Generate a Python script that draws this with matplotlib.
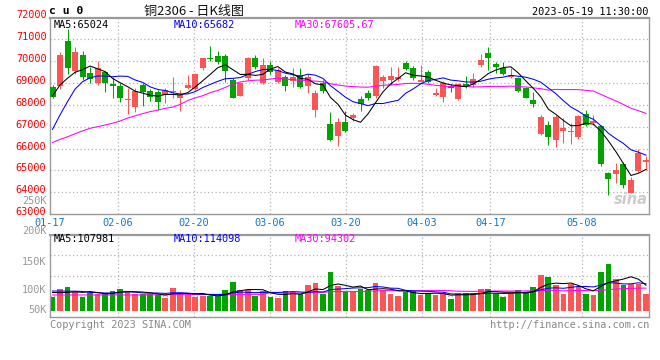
import numpy as np
import matplotlib
matplotlib.use('Agg')
import matplotlib.pyplot as plt
from matplotlib import transforms

# ---------------- data ----------------
tick_labels = ['01-17', '02-06', '02-20', '03-06', '03-20', '04-03', '04-17', '05-08']
tick_idx = [0, 9, 19, 29, 39, 49, 58, 70]

opens = [68836, 68882, 70924, 69552, 70284, 69461, 68988, 69491, 68973, 68866,
         68226, 67922, 68912, 68638, 68577, 68455, 68577, 68300, 68790, 68729,
         69705, 70162, 70238, 70238, 69141, 68409, 69247, 70131, 68988, 69826,
         69065, 69293, 69110, 69369, 68866, 67769, 69019, 67114, 66596, 67205,
         67388, 68257, 68531, 68424, 69110, 69141, 69186, 69933, 69705, 69065,
         69522, 68455, 68379, 68866, 68257, 68943, 68912, 69826, 70390, 69872,
         69705, 69293, 69247, 68760, 68226, 66657, 67083, 66398, 66824, 66779,
         66550, 67586, 67190, 67038, 64904, 64843, 65300, 63990, 64996, 65376]
closes = [68380, 70284, 69674, 70436, 69293, 69186, 69674, 69019, 68866, 68334,
          68272, 68638, 68577, 68379, 68120, 68683, 68638, 68450, 68912, 69400,
          70131, 70086, 69979, 69567, 68303, 69019, 70131, 69720, 69826, 69491,
          69598, 68866, 69293, 68806, 69293, 68562, 68638, 66398, 67236, 66809,
          67541, 68028, 68333, 69796, 69293, 69324, 69293, 69644, 69217, 69141,
          69065, 68562, 69019, 68790, 68943, 68836, 69186, 70055, 70131, 69750,
          69415, 69369, 68638, 68333, 68028, 67464, 66550, 67464, 66931, 66824,
          67495, 67083, 67266, 65300, 64614, 65026, 64340, 64569, 65818, 65483]
highs = [68912, 70436, 71480, 70665, 70467, 69750, 70009, 69552, 69293, 68988,
         68790, 68790, 68988, 68729, 68683, 68790, 69293, 68680, 69369, 69446,
         70162, 70695, 70467, 70314, 69217, 69065, 70208, 70284, 70162, 70009,
         69705, 69369, 69674, 69705, 69400, 68683, 69141, 67693, 67419, 67723,
         67617, 68409, 68683, 69826, 69369, 69750, 69720, 70009, 69796, 69826,
         69598, 68760, 69095, 68943, 68988, 69324, 69446, 70314, 70665, 69979,
         69979, 69705, 69293, 68836, 68607, 67541, 67266, 67541, 67388, 67160,
         67541, 67769, 67541, 67083, 64950, 65331, 65407, 64721, 65971, 65666]
lows = [68303, 68729, 69400, 69400, 69141, 68988, 68912, 68607, 68334, 68120,
        67571, 67662, 67967, 68181, 67769, 68074, 68333, 67700, 68729, 68683,
        69598, 70009, 69887, 69065, 68303, 68409, 69141, 69628, 68943, 69400,
        69019, 68638, 68836, 68760, 68531, 67464, 68531, 66352, 66138, 66748,
        67266, 67723, 68226, 68333, 68790, 68912, 69110, 69598, 69141, 69065,
        68988, 68409, 68120, 68607, 68226, 68790, 68836, 69750, 69598, 69446,
        69369, 69247, 68607, 68303, 67922, 66626, 66169, 66093, 66245, 66215,
        66443, 67038, 67083, 65224, 63883, 64416, 64218, 63959, 64950, 65026]

volumes_k = [87.8, 101.7, 105.0, 97.2, 88.9, 94.4, 92.8, 95.6, 98.3, 101.7,
             97.2, 92.8, 92.8, 92.8, 91.7, 87.2, 103.9, 95.6, 92.8, 88.9,
             90.0, 90.0, 90.0, 100.0, 113.9, 100.0, 100.0, 90.0, 98.3, 88.9,
             87.2, 98.3, 97.2, 92.8, 108.3, 112.2, 92.8, 130.6, 106.4, 97.2,
             97.2, 101.7, 100.0, 111.7, 100.0, 93.0, 90.0, 97.2, 98.5, 91.7,
             94.4, 91.7, 94.4, 85.0, 94.4, 94.4, 94.4, 101.7, 101.7, 94.4,
             88.9, 94.4, 100.0, 97.2, 105.0, 125.0, 121.7, 108.3, 93.3, 110.0,
             105.0, 93.3, 91.7, 130.0, 143.3, 118.3, 108.3, 110.0, 110.0, 93.3]

# moving-average values before enough in-window history exists
ma5_head = [68410, 68910, 69220, 69490]
ma10_head = [66880, 67540, 68150, 68720, 69060, 69240, 69320, 69320, 69290]
ma30_head = [66280, 66420, 66540, 66680, 66810, 66930, 67000, 67080, 67160, 67260,
             67400, 67500, 67600, 67690, 67760, 67840, 67900, 68020, 68200, 68320,
             68420, 68560, 68660, 68800, 68950, 69050, 69100, 69130, 69140]
vma5_head = [96.0, 95.5, 96.0, 97.0]
vma10_head = [98.3, 98.3, 98.0, 98.0, 97.5, 96.0, 95.6, 95.0, 95.0]
vma30_head = [91.7, 91.7, 91.7, 91.7, 91.7, 91.7, 91.7, 91.7, 91.7, 91.7,
              91.7, 91.7, 91.7, 91.9, 92.0, 92.2, 92.2, 92.2, 92.3, 92.4,
              92.5, 92.6, 92.7, 92.8, 92.8, 92.8, 92.8, 92.8, 92.8]

header_title = '铜2306 - 日K线图'
header_code = 'c u 0'
header_time = '2023-05-19 11:30:00'
ma_price_text = ['MA5:65024', 'MA10:65682', 'MA30:67605.67']
ma_vol_text = ['MA5:107981', 'MA10:114098', 'MA30:94302']
price_labels = [72000, 71000, 70000, 69000, 68000, 67000, 66000, 65000, 64000, 63000]
vol_labels = ['250K', '200K', '150K', '100K', '50K']
vol_label_pos = [248.8, 198.8, 147.2, 100.0, 66.7]

# ---------------- helpers ----------------
def sma(vals, n, head):
    a = np.asarray(vals, float)
    body = np.convolve(a, np.ones(n) / n, mode='valid')
    return np.concatenate([np.asarray(head, float), body])

W, H = 660, 360
def fx(px):
    return px / W
def fy(py):
    return 1 - py / H

RED = '#fb5656'
GREEN = '#00a300'
GRID = '#b4b4b4'
SPINE = '#9a9a9a'
MONO = 'DejaVu Sans Mono'
LW = 0.75

o = np.array(opens, float); c = np.array(closes, float)
hi = np.array(highs, float); lo = np.array(lows, float)
vol = np.array(volumes_k, float) * 1000
n = len(o)
x = np.arange(n)
up = c >= o
cols = [RED if u else GREEN for u in up]

fig = plt.figure(figsize=(6.6, 3.6), dpi=100)
fig.patch.set_facecolor('white')

xl = (-0.333, 79.4)
# date grid of the chart uses a slightly different spacing than the candles
gx = [(49.6 + 7.6 * i - 52.5) / 7.513 for i in tick_idx]

# ---------------- price panel ----------------
ax = fig.add_axes([fx(50), fy(213.5), fx(649) - fx(50), fy(18) - fy(213.5)])
ax.set_xlim(*xl)
ax.set_ylim(63030, 71975)
for yv in range(64000, 72000, 1000):
    ax.axhline(yv, color=GRID, lw=0.9, ls=(0, (1, 2)), zorder=0)
for g in gx[1:]:
    ax.axvline(g, color=GRID, lw=0.9, ls=(0, (1, 2)), zorder=0)

ax.vlines(x, lo, hi, colors=cols, lw=LW, zorder=2)
body_lo = np.minimum(o, c)
body_h = np.maximum(np.abs(c - o), 45)
ax.bar(x, body_h, bottom=body_lo, width=0.8, color=cols, linewidth=0, zorder=3)

ma5 = sma(c, 5, ma5_head)
ma10 = sma(c, 10, ma10_head)
ma30 = sma(c, 30, ma30_head)
ax.plot(x, ma30, color='#ff00ff', lw=LW, zorder=4)
ax.plot(x, ma10, color='#0000ff', lw=LW, zorder=4)
ax.plot(x, ma5, color='black', lw=LW, zorder=5)

ax.set_xticks([]); ax.set_yticks([])
for s in ax.spines.values():
    s.set_color(SPINE); s.set_linewidth(1.0)
ax.spines['top'].set_linewidth(1.6)

ytr = transforms.blended_transform_factory(fig.transFigure, ax.transData)
for pv in price_labels:
    ax.text(fx(46.5), pv + 90, str(pv), transform=ytr, ha='right', va='center',
            color='#ff0000', fontsize=7.4, family=MONO, clip_on=False)

# ---------------- volume panel ----------------
axv = fig.add_axes([fx(50), fy(317), fx(649) - fx(50), fy(234.5) - fy(317)])
axv.set_xlim(*xl)
vlo, vhi = 55000, 192500
axv.set_ylim(vlo, vhi)
for f in (0.25, 0.5, 0.75):
    axv.axhline(vlo + f * (vhi - vlo), color=GRID, lw=0.9, ls=(0, (1, 2)), zorder=0)
for g in gx[1:]:
    axv.axvline(g, color=GRID, lw=0.9, ls=(0, (1, 2)), zorder=0)
base = 65000
axv.bar(x, vol - base, bottom=base, width=0.76, color=cols, linewidth=0, zorder=2)
vma5 = sma(vol / 1000, 5, vma5_head) * 1000
vma10 = sma(vol / 1000, 10, vma10_head) * 1000
vma30 = sma(vol / 1000, 30, vma30_head) * 1000
axv.plot(x, vma30, color='#ff00ff', lw=LW, zorder=3)
axv.plot(x, vma10, color='#0000ff', lw=LW, zorder=3)
axv.plot(x, vma5, color='black', lw=LW, zorder=4)
axv.set_xticks([]); axv.set_yticks([])
for s in axv.spines.values():
    s.set_color(SPINE); s.set_linewidth(1.0)
axv.spines['top'].set_linewidth(1.6)

vtr = transforms.blended_transform_factory(fig.transFigure, axv.transData)
for lab, pos in zip(vol_labels, vol_label_pos):
    axv.text(fx(46.5), pos * 1000, lab, transform=vtr, ha='right', va='center',
             color='#999999', fontsize=7.4, family=MONO, clip_on=False)

# ---------------- date labels ----------------
xtr = transforms.blended_transform_factory(ax.transData, fig.transFigure)
for g, lab in zip(gx, tick_labels):
    ax.text(g, fy(222.5), lab, transform=xtr, ha='center', va='center',
            color='#1078c8', fontsize=7.4, family=MONO, clip_on=False)

# ---------------- header & legends ----------------
fig.text(fx(49), fy(11.5), header_code, ha='left', va='center', fontsize=8.2,
         fontweight='bold', family=MONO, color='black')
fig.text(fx(194), fy(11.5), header_title, ha='center', va='center', fontsize=9.4,
         family=['Noto Sans CJK SC', 'DejaVu Sans'], color='#111111')
fig.text(fx(648), fy(12), header_time, ha='right', va='center', fontsize=7.4,
         family=MONO, color='black')

leg_x = [54, 174, 295]
leg_c = ['black', '#0000ff', '#ff00ff']
for t, lx, lc in zip(ma_price_text, leg_x, leg_c):
    fig.text(fx(lx), fy(24.5), t, ha='left', va='center', fontsize=7.4, family=MONO, color=lc)
for t, lx, lc in zip(ma_vol_text, leg_x, leg_c):
    fig.text(fx(lx), fy(239), t, ha='left', va='center', fontsize=7.4, family=MONO, color=lc)

fig.text(fx(50), fy(324.5), 'Copyright 2023 SINA.COM', ha='left', va='center',
         fontsize=7.4, family=MONO, color='#888888')
fig.text(fx(649), fy(324.5), 'http://finance.sina.com.cn', ha='right', va='center',
         fontsize=7.4, family=MONO, color='#888888')

# watermark
fig.text(fx(631), fy(200), 'sina', ha='center', va='center', fontsize=10.5,
         style='italic', fontweight='bold', color='#cccccc', family='DejaVu Sans', zorder=1)

fig.savefig('out.png', dpi=100, facecolor='white')
